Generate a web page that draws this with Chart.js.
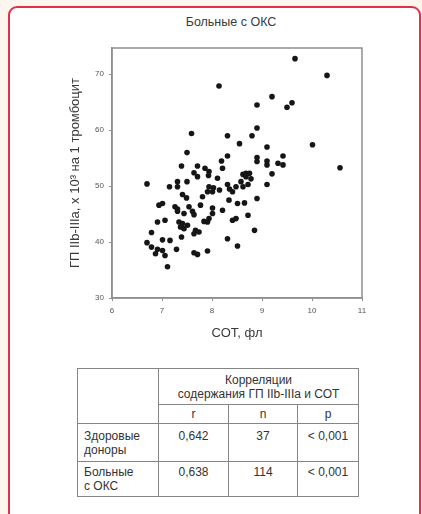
<!DOCTYPE html>
<html lang="ru">
<head>
<meta charset="utf-8">
<title>Больные с ОКС</title>
<script src="https://cdn.jsdelivr.net/npm/chart.js@4/dist/chart.umd.min.js"></script>
<style>
  html, body { margin: 0; padding: 0; }
  body { width: 422px; height: 514px; background: #fdf6ef; position: relative; overflow: hidden; font-family: "Liberation Sans", Arial, sans-serif; }
  #panel { position: absolute; left: 8px; top: 6px; width: 409px; height: 540px; background: #fff; border: 2px solid #e2304a; border-radius: 9px 9px 0 0; }
  #chartTitle { position: absolute; left: 131px; width: 200px; top: 15px; text-align: center; font-size: 12.5px; color: #3a3a3a; }
  #chartBox { position: absolute; left: 0; top: 0; width: 422px; height: 350px; }
  #corrTable { position: absolute; left: 77px; top: 368px; width: 281px; border-collapse: collapse; table-layout: fixed; font-size: 12px; line-height: 14px; color: #333; }
  #corrTable td { border: 1px solid #858585; padding: 0; text-align: center; vertical-align: middle; }
  #corrTable td.name { text-align: left; padding-left: 6px; }
</style>
</head>
<body>
<div id="panel"></div>
<div id="chartTitle">Больные с ОКС</div>
<div id="chartBox"><canvas id="scatterChart"></canvas></div>
<table id="corrTable"></table>
<script>
'use strict';

// СОТ (фл) и ГП IIb-IIIa — пары точек
const sotValues = [
    9.66, 10.30, 8.14, 9.20, 8.90, 9.50, 9.60, 7.59, 8.31, 8.90, 8.80, 8.55, 9.10, 10.01, 7.50, 8.31, 9.42, 8.90,
    8.19, 8.90, 9.10, 9.10, 9.32, 9.42, 10.56, 7.39, 7.71, 8.21, 7.86, 7.94, 7.64,
    8.68, 8.62, 9.20, 7.71, 8.11, 8.75, 8.68, 8.78, 8.58, 7.31, 7.50, 6.70, 8.31, 8.72, 9.10, 7.93,
    7.15, 7.31, 7.94, 8.01, 7.91, 8.41, 8.35, 8.62, 8.48,
    7.41, 7.49, 7.81, 8.34, 8.51, 8.90, 8.65, 6.94, 7.01, 7.26, 7.31, 7.31, 7.54, 7.61, 7.77, 8.01, 8.21,
    7.44, 7.64, 8.01, 7.94, 7.84, 7.91, 8.41, 8.72, 8.48, 6.91, 7.06, 7.34, 7.41, 7.37, 7.44, 7.51,
    7.67, 7.74, 7.64, 6.79, 8.85, 7.39, 7.01, 7.16, 6.70, 6.79, 6.91, 7.01, 7.06, 6.87, 7.29, 7.64, 7.71, 7.91, 8.31, 8.51, 7.11,
    8.15, 8.03
];
const gpValues = [
    72.8, 69.8, 67.9, 66.0, 64.5, 64.1, 64.9, 59.4, 59.0, 60.4, 59.0, 57.6, 57.0, 57.4, 56.0, 55.4, 55.4, 55.1,
    54.5, 54.4, 54.5, 53.8, 54.1, 53.8, 53.3, 53.6, 53.6, 53.2, 53.2, 52.6, 52.4,
    52.3, 52.1, 52.2, 51.7, 51.4, 52.3, 51.7, 51.3, 50.8, 50.8, 50.8, 50.4, 50.3, 50.3, 50.3, 51.9,
    49.9, 49.9, 49.9, 49.0, 49.0, 49.0, 49.5, 49.9, 49.9,
    48.5, 47.9, 48.1, 47.5, 46.9, 47.8, 47.0, 46.6, 46.9, 46.3, 45.9, 45.5, 46.3, 45.5, 46.6, 46.1, 45.7,
    45.1, 44.9, 45.1, 44.2, 43.7, 43.6, 43.9, 44.8, 44.2, 43.6, 43.9, 43.6, 43.3, 42.7, 42.4, 43.0,
    42.1, 41.8, 41.5, 41.7, 42.1, 40.9, 40.4, 40.3, 39.9, 39.1, 38.7, 38.5, 37.6, 37.9, 38.7, 38.1, 37.8, 38.4, 40.6, 39.3, 35.6,
    49.3, 49.7
];

const xTicks = [6, 7, 8, 9, 10, 11];
const yTicks = [30, 40, 50, 60, 70];

// таблица корреляций
const tableHeader = ['Корреляции', 'содержания ГП IIb-IIIa и СОТ'];
const tableCols = ['r', 'n', 'p'];
const groupNames = [['Здоровые', 'доноры'], ['Больные', 'с ОКС']];
const rValues = ['0,642', '0,638'];
const nValues = ['37', '114'];
const pValues = ['< 0,001', '< 0,001'];

const axisColor = '#8f8f8f';
const tickFont = { family: '"Liberation Sans", Arial, sans-serif', size: 8 };
const titleFont = { family: '"Liberation Sans", Arial, sans-serif', size: 13 };

// рамка вокруг области графика (верх и право)
const framePlugin = {
    id: 'frame',
    afterDraw(chart) {
        const { ctx, chartArea: a } = chart;
        ctx.save();
        ctx.strokeStyle = axisColor;
        ctx.lineWidth = 1.5;
        ctx.strokeRect(a.left, a.top, a.right - a.left, a.bottom - a.top);
        ctx.restore();
    }
};

const points = sotValues.map((x, i) => ({ x: x, y: gpValues[i] }));

new Chart(document.getElementById('scatterChart'), {
    type: 'scatter',
    data: {
        datasets: [{
            data: points,
            backgroundColor: '#161616',
            borderColor: '#161616',
            borderWidth: 0,
            pointRadius: 2.8,
            pointHoverRadius: 2.8
        }]
    },
    options: {
        responsive: true,
        maintainAspectRatio: false,
        animation: false,
        layout: { padding: { left: 60, right: 60, top: 48, bottom: 6 } },
        plugins: { legend: { display: false }, tooltip: { enabled: false } },
        scales: {
            x: {
                type: 'linear',
                min: xTicks[0],
                max: xTicks[xTicks.length - 1],
                afterBuildTicks: (s) => { s.ticks = xTicks.map(v => ({ value: v })); },
                afterFit: (s) => { s.height = 46; },
                grid: { drawOnChartArea: false, drawTicks: true, tickLength: 3, color: axisColor },
                border: { display: true, color: axisColor, width: 1.5 },
                ticks: { font: tickFont, color: '#555', padding: 5, maxRotation: 0 },
                title: { display: true, text: 'СОТ, фл', font: titleFont, color: '#3a3a3a', padding: { top: 0, bottom: 3 } }
            },
            y: {
                type: 'linear',
                min: yTicks[0],
                max: 74.7,
                afterBuildTicks: (s) => { s.ticks = yTicks.map(v => ({ value: v })); },
                afterFit: (s) => { s.width = 52; },
                grid: { drawOnChartArea: false, drawTicks: true, tickLength: 3, color: axisColor },
                border: { display: true, color: axisColor, width: 1.5 },
                ticks: { font: tickFont, color: '#555', padding: 5 },
                title: { display: true, text: 'ГП IIb-IIIa, x 10³ на 1 тромбоцит', font: titleFont, color: '#3a3a3a', padding: { top: 8, bottom: 0 } }
            }
        }
    },
    plugins: [framePlugin]
});

// строим таблицу
function buildTable() {
    const table = document.getElementById('corrTable');
    const widths = [81, 70, 69, 61];
    const colgroup = document.createElement('colgroup');
    widths.forEach(w => {
        const c = document.createElement('col');
        c.style.width = w + 'px';
        colgroup.appendChild(c);
    });
    table.appendChild(colgroup);

    const r1 = table.insertRow();
    r1.style.height = '36px';
    const corner = r1.insertCell();
    corner.rowSpan = 2;
    const head = r1.insertCell();
    head.colSpan = 3;
    head.innerHTML = tableHeader.join('<br>');

    const r2 = table.insertRow();
    r2.style.height = '19px';
    tableCols.forEach(t => { r2.insertCell().textContent = t; });

    const rowHeights = [38, 35];
    groupNames.forEach((name, i) => {
        const row = table.insertRow();
        row.style.height = rowHeights[i] + 'px';
        const nameCell = row.insertCell();
        nameCell.className = 'name';
        nameCell.innerHTML = name.join('<br>');
        [rValues[i], nValues[i], pValues[i]].forEach(v => {
            row.insertCell().innerHTML = v + '<br>&nbsp;';
        });
    });
}

buildTable();
</script>
</body>
</html>
